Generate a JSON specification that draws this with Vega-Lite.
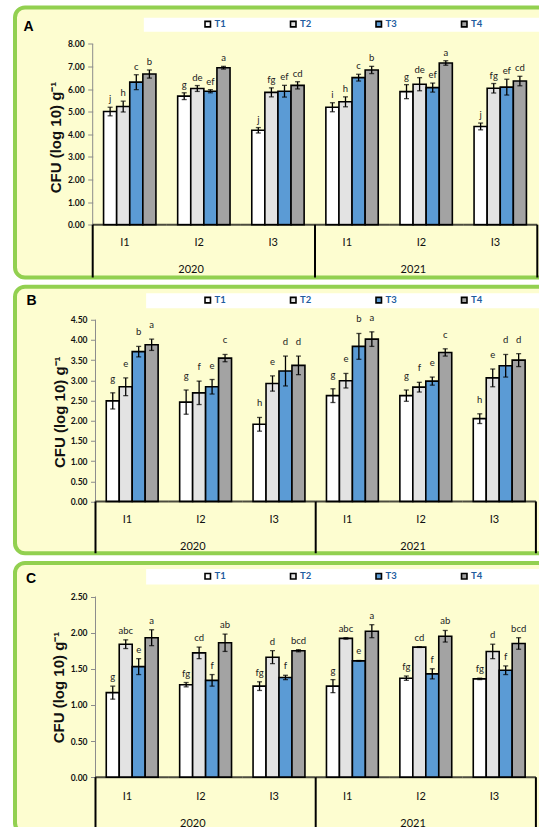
{
  "$schema": "https://vega.github.io/schema/vega-lite/v6.json",
  "background": "white",
  "padding": {"left": 13, "top": 5.5, "right": 0, "bottom": 0},
  "datasets": {
    "A": [
      {"grp": "2020-I1", "trt": "T1", "v": 5.01, "lo": 4.82, "hi": 5.20, "sig": "j"},
      {"grp": "2020-I1", "trt": "T2", "v": 5.23, "lo": 4.99, "hi": 5.47, "sig": "h"},
      {"grp": "2020-I1", "trt": "T3", "v": 6.31, "lo": 5.98, "hi": 6.64, "sig": "c"},
      {"grp": "2020-I1", "trt": "T4", "v": 6.67, "lo": 6.49, "hi": 6.85, "sig": "b"},
      {"grp": "2020-I2", "trt": "T1", "v": 5.69, "lo": 5.54, "hi": 5.84, "sig": "g"},
      {"grp": "2020-I2", "trt": "T2", "v": 6.03, "lo": 5.90, "hi": 6.16, "sig": "de"},
      {"grp": "2020-I2", "trt": "T3", "v": 5.91, "lo": 5.84, "hi": 5.98, "sig": "ef"},
      {"grp": "2020-I2", "trt": "T4", "v": 6.95, "lo": 6.89, "hi": 7.01, "sig": "a"},
      {"grp": "2020-I3", "trt": "T1", "v": 4.18, "lo": 4.06, "hi": 4.30, "sig": "j"},
      {"grp": "2020-I3", "trt": "T2", "v": 5.86, "lo": 5.66, "hi": 6.06, "sig": "fg"},
      {"grp": "2020-I3", "trt": "T3", "v": 5.91, "lo": 5.65, "hi": 6.17, "sig": "ef"},
      {"grp": "2020-I3", "trt": "T4", "v": 6.17, "lo": 6.01, "hi": 6.33, "sig": "cd"},
      {"grp": "2021-I1", "trt": "T1", "v": 5.20, "lo": 5.00, "hi": 5.40, "sig": "i"},
      {"grp": "2021-I1", "trt": "T2", "v": 5.44, "lo": 5.22, "hi": 5.66, "sig": "h"},
      {"grp": "2021-I1", "trt": "T3", "v": 6.51, "lo": 6.36, "hi": 6.66, "sig": "c"},
      {"grp": "2021-I1", "trt": "T4", "v": 6.85, "lo": 6.69, "hi": 7.01, "sig": "b"},
      {"grp": "2021-I2", "trt": "T1", "v": 5.89, "lo": 5.58, "hi": 6.20, "sig": "g"},
      {"grp": "2021-I2", "trt": "T2", "v": 6.22, "lo": 5.93, "hi": 6.51, "sig": "de"},
      {"grp": "2021-I2", "trt": "T3", "v": 6.07, "lo": 5.87, "hi": 6.27, "sig": "ef"},
      {"grp": "2021-I2", "trt": "T4", "v": 7.16, "lo": 7.06, "hi": 7.26, "sig": "a"},
      {"grp": "2021-I3", "trt": "T1", "v": 4.35, "lo": 4.20, "hi": 4.50, "sig": "j"},
      {"grp": "2021-I3", "trt": "T2", "v": 6.04, "lo": 5.83, "hi": 6.25, "sig": "fg"},
      {"grp": "2021-I3", "trt": "T3", "v": 6.09, "lo": 5.74, "hi": 6.44, "sig": "ef"},
      {"grp": "2021-I3", "trt": "T4", "v": 6.36, "lo": 6.15, "hi": 6.57, "sig": "cd"}
    ],
    "B": [
      {"grp": "2020-I1", "trt": "T1", "v": 2.49, "lo": 2.29, "hi": 2.69, "sig": "g"},
      {"grp": "2020-I1", "trt": "T2", "v": 2.84, "lo": 2.62, "hi": 3.06, "sig": "e"},
      {"grp": "2020-I1", "trt": "T3", "v": 3.71, "lo": 3.58, "hi": 3.84, "sig": "b"},
      {"grp": "2020-I1", "trt": "T4", "v": 3.88, "lo": 3.74, "hi": 4.02, "sig": "a"},
      {"grp": "2020-I2", "trt": "T1", "v": 2.46, "lo": 2.16, "hi": 2.76, "sig": "g"},
      {"grp": "2020-I2", "trt": "T2", "v": 2.69, "lo": 2.40, "hi": 2.98, "sig": "f"},
      {"grp": "2020-I2", "trt": "T3", "v": 2.84, "lo": 2.66, "hi": 3.02, "sig": "e"},
      {"grp": "2020-I2", "trt": "T4", "v": 3.55, "lo": 3.46, "hi": 3.64, "sig": "c"},
      {"grp": "2020-I3", "trt": "T1", "v": 1.91, "lo": 1.74, "hi": 2.08, "sig": "h"},
      {"grp": "2020-I3", "trt": "T2", "v": 2.92, "lo": 2.73, "hi": 3.11, "sig": "e"},
      {"grp": "2020-I3", "trt": "T3", "v": 3.23, "lo": 2.86, "hi": 3.60, "sig": "d"},
      {"grp": "2020-I3", "trt": "T4", "v": 3.37, "lo": 3.14, "hi": 3.60, "sig": "d"},
      {"grp": "2021-I1", "trt": "T1", "v": 2.62, "lo": 2.45, "hi": 2.79, "sig": "g"},
      {"grp": "2021-I1", "trt": "T2", "v": 2.99, "lo": 2.81, "hi": 3.17, "sig": "e"},
      {"grp": "2021-I1", "trt": "T3", "v": 3.84, "lo": 3.52, "hi": 4.16, "sig": "b"},
      {"grp": "2021-I1", "trt": "T4", "v": 4.02, "lo": 3.84, "hi": 4.20, "sig": "a"},
      {"grp": "2021-I2", "trt": "T1", "v": 2.62, "lo": 2.48, "hi": 2.76, "sig": "g"},
      {"grp": "2021-I2", "trt": "T2", "v": 2.83, "lo": 2.71, "hi": 2.95, "sig": "f"},
      {"grp": "2021-I2", "trt": "T3", "v": 2.98, "lo": 2.88, "hi": 3.08, "sig": "e"},
      {"grp": "2021-I2", "trt": "T4", "v": 3.69, "lo": 3.60, "hi": 3.78, "sig": "c"},
      {"grp": "2021-I3", "trt": "T1", "v": 2.05, "lo": 1.93, "hi": 2.17, "sig": "h"},
      {"grp": "2021-I3", "trt": "T2", "v": 3.06, "lo": 2.84, "hi": 3.28, "sig": "e"},
      {"grp": "2021-I3", "trt": "T3", "v": 3.36, "lo": 3.08, "hi": 3.64, "sig": "d"},
      {"grp": "2021-I3", "trt": "T4", "v": 3.50, "lo": 3.34, "hi": 3.66, "sig": "d"}
    ],
    "C": [
      {"grp": "2020-I1", "trt": "T1", "v": 1.17, "lo": 1.08, "hi": 1.26, "sig": "g"},
      {"grp": "2020-I1", "trt": "T2", "v": 1.84, "lo": 1.78, "hi": 1.90, "sig": "abc"},
      {"grp": "2020-I1", "trt": "T3", "v": 1.53, "lo": 1.42, "hi": 1.64, "sig": "e"},
      {"grp": "2020-I1", "trt": "T4", "v": 1.93, "lo": 1.82, "hi": 2.04, "sig": "a"},
      {"grp": "2020-I2", "trt": "T1", "v": 1.28, "lo": 1.25, "hi": 1.31, "sig": "fg"},
      {"grp": "2020-I2", "trt": "T2", "v": 1.72, "lo": 1.64, "hi": 1.80, "sig": "cd"},
      {"grp": "2020-I2", "trt": "T3", "v": 1.34, "lo": 1.26, "hi": 1.42, "sig": "f"},
      {"grp": "2020-I2", "trt": "T4", "v": 1.86, "lo": 1.74, "hi": 1.98, "sig": "ab"},
      {"grp": "2020-I3", "trt": "T1", "v": 1.26, "lo": 1.20, "hi": 1.32, "sig": "fg"},
      {"grp": "2020-I3", "trt": "T2", "v": 1.66, "lo": 1.57, "hi": 1.75, "sig": "d"},
      {"grp": "2020-I3", "trt": "T3", "v": 1.38, "lo": 1.35, "hi": 1.41, "sig": "f"},
      {"grp": "2020-I3", "trt": "T4", "v": 1.75, "lo": 1.735, "hi": 1.765, "sig": "bcd"},
      {"grp": "2021-I1", "trt": "T1", "v": 1.26, "lo": 1.17, "hi": 1.35, "sig": "g"},
      {"grp": "2021-I1", "trt": "T2", "v": 1.92, "lo": 1.91, "hi": 1.93, "sig": "abc"},
      {"grp": "2021-I1", "trt": "T3", "v": 1.61, "lo": 1.605, "hi": 1.615, "sig": "e"},
      {"grp": "2021-I1", "trt": "T4", "v": 2.02, "lo": 1.93, "hi": 2.11, "sig": "a"},
      {"grp": "2021-I2", "trt": "T1", "v": 1.37, "lo": 1.34, "hi": 1.40, "sig": "fg"},
      {"grp": "2021-I2", "trt": "T2", "v": 1.80, "lo": 1.795, "hi": 1.805, "sig": "cd"},
      {"grp": "2021-I2", "trt": "T3", "v": 1.43, "lo": 1.36, "hi": 1.50, "sig": "f"},
      {"grp": "2021-I2", "trt": "T4", "v": 1.95, "lo": 1.87, "hi": 2.03, "sig": "ab"},
      {"grp": "2021-I3", "trt": "T1", "v": 1.36, "lo": 1.35, "hi": 1.37, "sig": "fg"},
      {"grp": "2021-I3", "trt": "T2", "v": 1.74, "lo": 1.64, "hi": 1.84, "sig": "d"},
      {"grp": "2021-I3", "trt": "T3", "v": 1.48, "lo": 1.42, "hi": 1.54, "sig": "f"},
      {"grp": "2021-I3", "trt": "T4", "v": 1.85, "lo": 1.77, "hi": 1.93, "sig": "bcd"}
    ],
    "groups": [
      {"grp": "2020-I1"}, {"grp": "2020-I2"}, {"grp": "2020-I3"},
      {"grp": "2021-I1"}, {"grp": "2021-I2"}, {"grp": "2021-I3"}
    ]
  },
  "vconcat": [
    {
      "width": 545,
      "height": 270,
      "title": {"text": "A", "anchor": "start", "frame": "group", "orient": "top", "offset": -26, "dx": 8.5, "font": "Liberation Sans", "fontSize": 14, "fontWeight": "bold", "color": "black"},
      "data": {"name": "A"},
      "layer": [
        {
          "data": {"values": [{}]},
          "mark": {"type": "rect", "fill": "white", "clip": true},
          "encoding": {
            "x": {"datum": "2020-I1", "bandPosition": 0.69},
            "x2": {"datum": "2021-I3", "bandPosition": 1.4},
            "y": {"datum": 9.164},
            "y2": {"datum": 8.545}
          }
        },
        {
          "mark": {"type": "bar", "stroke": "black", "strokeWidth": 1.6},
          "encoding": {
            "x": {
              "field": "grp", "type": "nominal",
              "scale": {"domain": ["2020-I1", "2020-I2", "2020-I3", "2021-I1", "2021-I2", "2021-I3"], "paddingInner": 0, "paddingOuter": 0.6775, "align": 0.7739},
              "axis": {"orient": "bottom", "offset": -40.8, "title": null, "domain": false, "ticks": false, "tickSize": 0, "labelPadding": 0, "labelAngle": 0, "labelBaseline": "top", "labelLineHeight": 26.6, "labelFont": "Lato", "labelFontSize": 11, "labelColor": "#111", "labelOverlap": false, "labelBound": false, "labelFlush": false,
                "labelExpr": "substring(datum.value, 5) == 'I2' ? [substring(datum.value, 5), substring(datum.value, 0, 4)] : substring(datum.value, 5)"}
            },
            "xOffset": {"field": "trt", "type": "nominal", "scale": {"paddingInner": 0, "paddingOuter": 0.83}},
            "y": {
              "field": "v", "type": "quantitative",
              "scale": {"domain": [-2.338, 9.616], "nice": false, "zero": false},
              "axis": {"values": [0, 1, 2, 3, 4, 5, 6, 7, 8], "format": ".2f", "offset": -77.7, "domain": false, "grid": false, "tickSize": 5, "tickColor": "#8c8c8c", "labelPadding": 3.5, "labelOverlap": false, "labelFont": "Lato", "labelFontSize": 8.5, "labelFontWeight": "bold", "labelColor": "#111",
                "title": "CFU (log 10) g⁻¹", "titleFont": "Liberation Sans", "titleFontSize": 15, "titleFontWeight": "bold", "titleColor": "#111", "titleAngle": 270, "titleX": -36.7, "titleY": 129.5, "titleAlign": "center", "titleBaseline": "middle"}
            },
            "color": {
              "field": "trt", "type": "nominal",
              "scale": {"domain": ["T1", "T2", "T3", "T4"], "range": ["#ffffff", "#e3e3e3", "#5b9bd5", "#a3a3a3"]},
              "legend": {"orient": "none", "legendX": 188, "legendY": 11.7, "direction": "horizontal", "columns": 4, "columnPadding": 60.5, "gridAlign": "all", "title": null, "symbolType": "square", "symbolSize": 30, "symbolStrokeColor": "black", "symbolStrokeWidth": 1.6, "labelColor": "#1f5c9e", "labelFont": "Lato", "labelFontSize": 9.5, "labelFontWeight": "bold", "labelOffset": 2, "padding": 0}
            }
          }
        },
        {
          "mark": {"type": "rule", "color": "black", "strokeWidth": 1.3},
          "encoding": {
            "x": {"field": "grp", "type": "nominal"},
            "xOffset": {"field": "trt", "type": "nominal"},
            "y": {"field": "lo", "type": "quantitative"},
            "y2": {"field": "hi"}
          }
        },
        {
          "mark": {"type": "tick", "color": "black", "thickness": 1.3, "size": 5},
          "encoding": {
            "x": {"field": "grp", "type": "nominal"},
            "xOffset": {"field": "trt", "type": "nominal"},
            "y": {"field": "lo", "type": "quantitative"}
          }
        },
        {
          "mark": {"type": "tick", "color": "black", "thickness": 1.3, "size": 5},
          "encoding": {
            "x": {"field": "grp", "type": "nominal"},
            "xOffset": {"field": "trt", "type": "nominal"},
            "y": {"field": "hi", "type": "quantitative"}
          }
        },
        {
          "mark": {"type": "text", "font": "Lato", "fontSize": 9.5, "color": "#222", "baseline": "alphabetic", "dy": -5},
          "encoding": {
            "x": {"field": "grp", "type": "nominal"},
            "xOffset": {"field": "trt", "type": "nominal"},
            "y": {"field": "hi", "type": "quantitative"},
            "text": {"field": "sig"}
          }
        },
        {
          "data": {"values": [{"grp": "2020-I1"}]},
          "mark": {"type": "rule", "color": "#8c8c8c", "strokeWidth": 1},
          "encoding": {"x": {"field": "grp", "type": "nominal", "bandPosition": 0}, "y": {"datum": 8}, "y2": {"datum": 0}}
        },
        {
          "data": {"name": "groups"},
          "mark": {"type": "tick", "color": "black", "thickness": 2, "size": 74.1},
          "encoding": {"x": {"field": "grp", "type": "nominal"}, "y": {"datum": 0}}
        },
        {
          "data": {"values": [{"grp": "2020-I1"}, {"grp": "2021-I1"}]},
          "mark": {"type": "rule", "color": "black", "strokeWidth": 2},
          "encoding": {"x": {"field": "grp", "type": "nominal", "bandPosition": 0}, "y": {"datum": 0}, "y2": {"datum": -2.338}}
        },
        {
          "data": {"values": [{"grp": "2021-I3"}]},
          "mark": {"type": "rule", "color": "black", "strokeWidth": 2},
          "encoding": {"x": {"field": "grp", "type": "nominal", "bandPosition": 1}, "y": {"datum": 0}, "y2": {"datum": -2.338}}
        }
      ]
    },
    {
      "width": 545,
      "height": 266.5,
      "title": {"text": "B", "anchor": "start", "frame": "group", "orient": "top", "offset": -21, "dx": 11.5, "font": "Liberation Sans", "fontSize": 14, "fontWeight": "bold", "color": "black"},
      "data": {"name": "B"},
      "layer": [
        {
          "data": {"values": [{}]},
          "mark": {"type": "rect", "fill": "white", "clip": true},
          "encoding": {
            "x": {"datum": "2020-I1", "bandPosition": 0.69},
            "x2": {"datum": "2021-I3", "bandPosition": 1.4},
            "y": {"datum": 5.156},
            "y2": {"datum": 4.785}
          }
        },
        {
          "mark": {"type": "bar", "stroke": "black", "strokeWidth": 1.6},
          "encoding": {
            "x": {
              "field": "grp", "type": "nominal",
              "scale": {"domain": ["2020-I1", "2020-I2", "2020-I3", "2021-I1", "2021-I2", "2021-I3"], "paddingInner": 0, "paddingOuter": 0.7125, "align": 0.7696},
              "axis": {"orient": "bottom", "offset": -39.5, "title": null, "domain": false, "ticks": false, "tickSize": 0, "labelPadding": 0, "labelAngle": 0, "labelBaseline": "top", "labelLineHeight": 26.6, "labelFont": "Lato", "labelFontSize": 11, "labelColor": "#111", "labelOverlap": false, "labelBound": false, "labelFlush": false,
                "labelExpr": "substring(datum.value, 5) == 'I2' ? [substring(datum.value, 5), substring(datum.value, 0, 4)] : substring(datum.value, 5)"}
            },
            "xOffset": {"field": "trt", "type": "nominal", "scale": {"paddingInner": 0, "paddingOuter": 0.83}},
            "y": {
              "field": "v", "type": "quantitative",
              "scale": {"domain": [-1.283, 5.317], "nice": false, "zero": false},
              "axis": {"values": [0, 0.5, 1, 1.5, 2, 2.5, 3, 3.5, 4, 4.5], "format": ".2f", "offset": -80.5, "domain": false, "grid": false, "tickSize": 5, "tickColor": "#8c8c8c", "labelPadding": 3.5, "labelOverlap": false, "labelFont": "Lato", "labelFontSize": 8.5, "labelFontWeight": "bold", "labelColor": "#111",
                "title": "CFU (log 10) g⁻¹", "titleFont": "Liberation Sans", "titleFontSize": 15, "titleFontWeight": "bold", "titleColor": "#111", "titleAngle": 270, "titleX": -36.5, "titleY": 125, "titleAlign": "center", "titleBaseline": "middle"}
            },
            "color": {
              "field": "trt", "type": "nominal",
              "scale": {"domain": ["T1", "T2", "T3", "T4"], "range": ["#ffffff", "#e3e3e3", "#5b9bd5", "#a3a3a3"]},
              "legend": {"orient": "none", "legendX": 188, "legendY": 8.5, "direction": "horizontal", "columns": 4, "columnPadding": 60.5, "gridAlign": "all", "title": null, "symbolType": "square", "symbolSize": 30, "symbolStrokeColor": "black", "symbolStrokeWidth": 1.6, "labelColor": "#1f5c9e", "labelFont": "Lato", "labelFontSize": 9.5, "labelFontWeight": "bold", "labelOffset": 2, "padding": 0}
            }
          }
        },
        {
          "mark": {"type": "rule", "color": "black", "strokeWidth": 1.3},
          "encoding": {
            "x": {"field": "grp", "type": "nominal"},
            "xOffset": {"field": "trt", "type": "nominal"},
            "y": {"field": "lo", "type": "quantitative"},
            "y2": {"field": "hi"}
          }
        },
        {
          "mark": {"type": "tick", "color": "black", "thickness": 1.3, "size": 5},
          "encoding": {
            "x": {"field": "grp", "type": "nominal"},
            "xOffset": {"field": "trt", "type": "nominal"},
            "y": {"field": "lo", "type": "quantitative"}
          }
        },
        {
          "mark": {"type": "tick", "color": "black", "thickness": 1.3, "size": 5},
          "encoding": {
            "x": {"field": "grp", "type": "nominal"},
            "xOffset": {"field": "trt", "type": "nominal"},
            "y": {"field": "hi", "type": "quantitative"}
          }
        },
        {
          "mark": {"type": "text", "font": "Lato", "fontSize": 9.5, "color": "#222", "baseline": "alphabetic", "dy": -11},
          "encoding": {
            "x": {"field": "grp", "type": "nominal"},
            "xOffset": {"field": "trt", "type": "nominal"},
            "y": {"field": "hi", "type": "quantitative"},
            "text": {"field": "sig"}
          }
        },
        {
          "data": {"values": [{"grp": "2020-I1"}]},
          "mark": {"type": "rule", "color": "#8c8c8c", "strokeWidth": 1},
          "encoding": {"x": {"field": "grp", "type": "nominal", "bandPosition": 0}, "y": {"datum": 4.5}, "y2": {"datum": 0}}
        },
        {
          "data": {"name": "groups"},
          "mark": {"type": "tick", "color": "black", "thickness": 2, "size": 73.4},
          "encoding": {"x": {"field": "grp", "type": "nominal"}, "y": {"datum": 0}}
        },
        {
          "data": {"values": [{"grp": "2020-I1"}, {"grp": "2021-I1"}]},
          "mark": {"type": "rule", "color": "black", "strokeWidth": 2},
          "encoding": {"x": {"field": "grp", "type": "nominal", "bandPosition": 0}, "y": {"datum": 0}, "y2": {"datum": -1.283}}
        },
        {
          "data": {"values": [{"grp": "2021-I3"}]},
          "mark": {"type": "rule", "color": "black", "strokeWidth": 2},
          "encoding": {"x": {"field": "grp", "type": "nominal", "bandPosition": 1}, "y": {"datum": 0}, "y2": {"datum": -1.283}}
        }
      ]
    },
    {
      "width": 545,
      "height": 270,
      "title": {"text": "C", "anchor": "start", "frame": "group", "orient": "top", "offset": -22.5, "dx": 11, "font": "Liberation Sans", "fontSize": 14, "fontWeight": "bold", "color": "black"},
      "data": {"name": "C"},
      "layer": [
        {
          "data": {"values": [{}]},
          "mark": {"type": "rect", "fill": "white", "clip": true},
          "encoding": {
            "x": {"datum": "2020-I1", "bandPosition": 0.69},
            "x2": {"datum": "2021-I3", "bandPosition": 1.4},
            "y": {"datum": 2.880},
            "y2": {"datum": 2.666}
          }
        },
        {
          "mark": {"type": "bar", "stroke": "black", "strokeWidth": 1.6},
          "encoding": {
            "x": {
              "field": "grp", "type": "nominal",
              "scale": {"domain": ["2020-I1", "2020-I2", "2020-I3", "2021-I1", "2021-I2", "2021-I3"], "paddingInner": 0, "paddingOuter": 0.7125, "align": 0.7696},
              "axis": {"orient": "bottom", "offset": -42.5, "title": null, "domain": false, "ticks": false, "tickSize": 0, "labelPadding": 0, "labelAngle": 0, "labelBaseline": "top", "labelLineHeight": 26.6, "labelFont": "Lato", "labelFontSize": 11, "labelColor": "#111", "labelOverlap": false, "labelBound": false, "labelFlush": false,
                "labelExpr": "substring(datum.value, 5) == 'I2' ? [substring(datum.value, 5), substring(datum.value, 0, 4)] : substring(datum.value, 5)"}
            },
            "xOffset": {"field": "trt", "type": "nominal", "scale": {"paddingInner": 0, "paddingOuter": 0.83}},
            "y": {
              "field": "v", "type": "quantitative",
              "scale": {"domain": [-0.772, 2.9635], "nice": false, "zero": false},
              "axis": {"values": [0, 0.5, 1, 1.5, 2, 2.5], "format": ".2f", "offset": -80.5, "domain": false, "grid": false, "tickSize": 5, "tickColor": "#8c8c8c", "labelPadding": 3.5, "labelOverlap": false, "labelFont": "Lato", "labelFontSize": 8.5, "labelFontWeight": "bold", "labelColor": "#111",
                "title": "CFU (log 10) g⁻¹", "titleFont": "Liberation Sans", "titleFontSize": 15, "titleFontWeight": "bold", "titleColor": "#111", "titleAngle": 270, "titleX": -37, "titleY": 124, "titleAlign": "center", "titleBaseline": "middle"}
            },
            "color": {
              "field": "trt", "type": "nominal",
              "scale": {"domain": ["T1", "T2", "T3", "T4"], "range": ["#ffffff", "#e3e3e3", "#5b9bd5", "#a3a3a3"]},
              "legend": {"orient": "none", "legendX": 188, "legendY": 8.3, "direction": "horizontal", "columns": 4, "columnPadding": 60.5, "gridAlign": "all", "title": null, "symbolType": "square", "symbolSize": 30, "symbolStrokeColor": "black", "symbolStrokeWidth": 1.6, "labelColor": "#1f5c9e", "labelFont": "Lato", "labelFontSize": 9.5, "labelFontWeight": "bold", "labelOffset": 2, "padding": 0}
            }
          }
        },
        {
          "mark": {"type": "rule", "color": "black", "strokeWidth": 1.3},
          "encoding": {
            "x": {"field": "grp", "type": "nominal"},
            "xOffset": {"field": "trt", "type": "nominal"},
            "y": {"field": "lo", "type": "quantitative"},
            "y2": {"field": "hi"}
          }
        },
        {
          "mark": {"type": "tick", "color": "black", "thickness": 1.3, "size": 5},
          "encoding": {
            "x": {"field": "grp", "type": "nominal"},
            "xOffset": {"field": "trt", "type": "nominal"},
            "y": {"field": "lo", "type": "quantitative"}
          }
        },
        {
          "mark": {"type": "tick", "color": "black", "thickness": 1.3, "size": 5},
          "encoding": {
            "x": {"field": "grp", "type": "nominal"},
            "xOffset": {"field": "trt", "type": "nominal"},
            "y": {"field": "hi", "type": "quantitative"}
          }
        },
        {
          "mark": {"type": "text", "font": "Lato", "fontSize": 9.5, "color": "#222", "baseline": "alphabetic", "dy": -6},
          "encoding": {
            "x": {"field": "grp", "type": "nominal"},
            "xOffset": {"field": "trt", "type": "nominal"},
            "y": {"field": "hi", "type": "quantitative"},
            "text": {"field": "sig"}
          }
        },
        {
          "data": {"values": [{"grp": "2020-I1"}]},
          "mark": {"type": "rule", "color": "#8c8c8c", "strokeWidth": 1},
          "encoding": {"x": {"field": "grp", "type": "nominal", "bandPosition": 0}, "y": {"datum": 2.5}, "y2": {"datum": 0}}
        },
        {
          "data": {"name": "groups"},
          "mark": {"type": "tick", "color": "black", "thickness": 2, "size": 73.4},
          "encoding": {"x": {"field": "grp", "type": "nominal"}, "y": {"datum": 0}}
        },
        {
          "data": {"values": [{"grp": "2020-I1"}, {"grp": "2021-I1"}]},
          "mark": {"type": "rule", "color": "black", "strokeWidth": 2},
          "encoding": {"x": {"field": "grp", "type": "nominal", "bandPosition": 0}, "y": {"datum": 0}, "y2": {"datum": -0.772}}
        },
        {
          "data": {"values": [{"grp": "2021-I3"}]},
          "mark": {"type": "rule", "color": "black", "strokeWidth": 2},
          "encoding": {"x": {"field": "grp", "type": "nominal", "bandPosition": 1}, "y": {"datum": 0}, "y2": {"datum": -0.772}}
        }
      ]
    }
  ],
  "spacing": 9.25,
  "bounds": "flush",
  "resolve": {
    "scale": {"color": "independent", "xOffset": "independent"},
    "legend": {"color": "independent"}
  },
  "config": {
    "font": "Lato",
    "view": {"fill": "#fdfdd0", "stroke": "#92d050", "strokeWidth": 4, "cornerRadius": 10},
    "axis": {"grid": false, "labelOverlap": false},
    "axisY": {"labelOverlap": false},
    "axisQuantitative": {"labelOverlap": false, "tickCount": 20}
  }
}
